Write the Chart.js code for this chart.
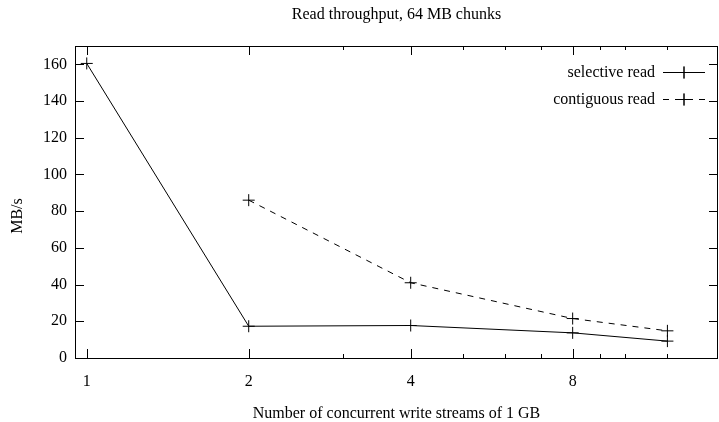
<!DOCTYPE html>
<html>
<head>
<meta charset="utf-8">
<script src="https://cdn.jsdelivr.net/npm/chart.js@4.4.1/dist/chart.umd.min.js"></script>
<style>
  html, body { margin: 0; padding: 0; background: #fff; }
  #wrap { position: relative; width: 719px; height: 422px; }
</style>
</head>
<body>
<div id="wrap"><canvas id="chart"></canvas></div>
<script>
// x positions (concurrent write streams)
const streams = [1, 2, 4, 8, 12];
// MB/s
const selectiveRead = [160.5, 17.3, 17.7, 13.7, 9.2];
const contiguousRead = [null, 86, 41, 21.5, 14.8];

const xMajorTicks = [1, 2, 4, 8];
const xMinorTicks = [3, 5, 6, 7, 9, 10, 12];
const yTicks = [0, 20, 40, 60, 80, 100, 120, 140, 160];

const titleText = 'Read throughput, 64 MB chunks';
const xTitle = 'Number of concurrent write streams of 1 GB';
const yTitle = 'MB/s';
const seriesNames = ['selective read', 'contiguous read'];

const FONT = "'Liberation Serif', 'Times New Roman', serif";
const DASH = [6, 6];

const toPoints = (vals) => streams
    .map((x, i) => ({ x: x, y: vals[i] }))
    .filter(p => p.y !== null);

// gnuplot style frame: border, inward ticks on all four sides, titles, key
const gnuplotFrame = {
    id: 'gnuplotFrame',
    afterDraw(chart) {
        const ctx = chart.ctx;
        const { left, right, top, bottom } = chart.chartArea;
        const xs = chart.scales.x, ys = chart.scales.y;
        ctx.save();
        ctx.strokeStyle = '#000';
        ctx.lineWidth = 1;
        ctx.setLineDash([]);
        ctx.strokeRect(left + 0.5, top + 0.5, right - left - 1, bottom - top);

        ctx.beginPath();
        const xTick = (v, len) => {
            const px = Math.round(xs.getPixelForValue(v)) + 0.5;
            ctx.moveTo(px, bottom); ctx.lineTo(px, bottom - len);
            ctx.moveTo(px, top); ctx.lineTo(px, top + len);
        };
        xMajorTicks.forEach(v => xTick(v, 9));
        xMinorTicks.forEach(v => xTick(v, 4));
        yTicks.forEach(v => {
            const py = Math.round(ys.getPixelForValue(v)) + 0.5;
            ctx.moveTo(left, py); ctx.lineTo(left + 9, py);
            ctx.moveTo(right, py); ctx.lineTo(right - 9, py);
        });
        ctx.stroke();

        // texts
        ctx.fillStyle = '#000';
        ctx.font = '16px ' + FONT;
        ctx.textBaseline = 'alphabetic';
        ctx.textAlign = 'center';
        ctx.fillText(titleText, (left + right) / 2, 19);
        ctx.fillText(xTitle, (left + right) / 2, 418);
        ctx.save();
        ctx.translate(22, 216);
        ctx.rotate(-Math.PI / 2);
        ctx.fillText(yTitle, 0, 0);
        ctx.restore();

        // key
        const rows = [72, 99];
        chart.data.datasets.forEach((ds, i) => {
            const y = rows[i];
            ctx.textAlign = 'right';
            ctx.textBaseline = 'middle';
            ctx.fillText(seriesNames[i], 655, y + 1);
            ctx.beginPath();
            ctx.setLineDash(ds.borderDash || []);
            ctx.moveTo(663, y + 0.5);
            ctx.lineTo(705, y + 0.5);
            ctx.stroke();
            ctx.setLineDash([]);
            Chart.helpers.drawPoint(ctx, { pointStyle: 'cross', radius: 6, rotation: 0, borderWidth: 1 }, 684, y + 0.5);
            ctx.stroke();
        });
        ctx.restore();
    }
};

const config = {
    type: 'line',
    data: {
        datasets: [
            {
                label: seriesNames[0],
                data: toPoints(selectiveRead),
                borderColor: '#000',
                borderWidth: 1,
                pointStyle: 'cross',
                pointRadius: 6,
                pointBorderWidth: 1,
                pointBorderColor: '#000',
                tension: 0,
                fill: false
            },
            {
                label: seriesNames[1],
                data: toPoints(contiguousRead),
                borderColor: '#000',
                borderWidth: 1,
                borderDash: DASH,
                pointStyle: 'cross',
                pointRadius: 6,
                pointBorderWidth: 1,
                pointBorderColor: '#000',
                tension: 0,
                fill: false
            }
        ]
    },
    options: {
        responsive: true,
        maintainAspectRatio: false,
        animation: false,
        events: [],
        layout: { autoPadding: false, padding: { top: 46, right: 1, left: 0, bottom: 0 } },
        plugins: {
            legend: { display: false },
            title: { display: false },
            tooltip: { enabled: false }
        },
        scales: {
            x: {
                type: 'logarithmic',
                min: 0.951,
                max: 14.9,
                border: { display: false },
                grid: { display: false, drawTicks: false },
                afterBuildTicks: (scale) => { scale.ticks = xMajorTicks.map(v => ({ value: v })); },
                afterFit: (scale) => { scale.height = 64; },
                ticks: {
                    autoSkip: false,
                    maxRotation: 0,
                    padding: 14,
                    color: '#000',
                    font: { family: FONT, size: 16 },
                    callback: (v) => String(v)
                }
            },
            y: {
                min: 0,
                max: 170,
                border: { display: false },
                grid: { display: false, drawTicks: false },
                afterBuildTicks: (scale) => { scale.ticks = yTicks.map(v => ({ value: v })); },
                afterFit: (scale) => { scale.width = 75; },
                ticks: {
                    padding: 8,
                    color: '#000',
                    font: { family: FONT, size: 16 },
                    callback: (v) => String(v)
                }
            }
        }
    },
    plugins: [gnuplotFrame]
};

new Chart(document.getElementById('chart'), config);
</script>
</body>
</html>
